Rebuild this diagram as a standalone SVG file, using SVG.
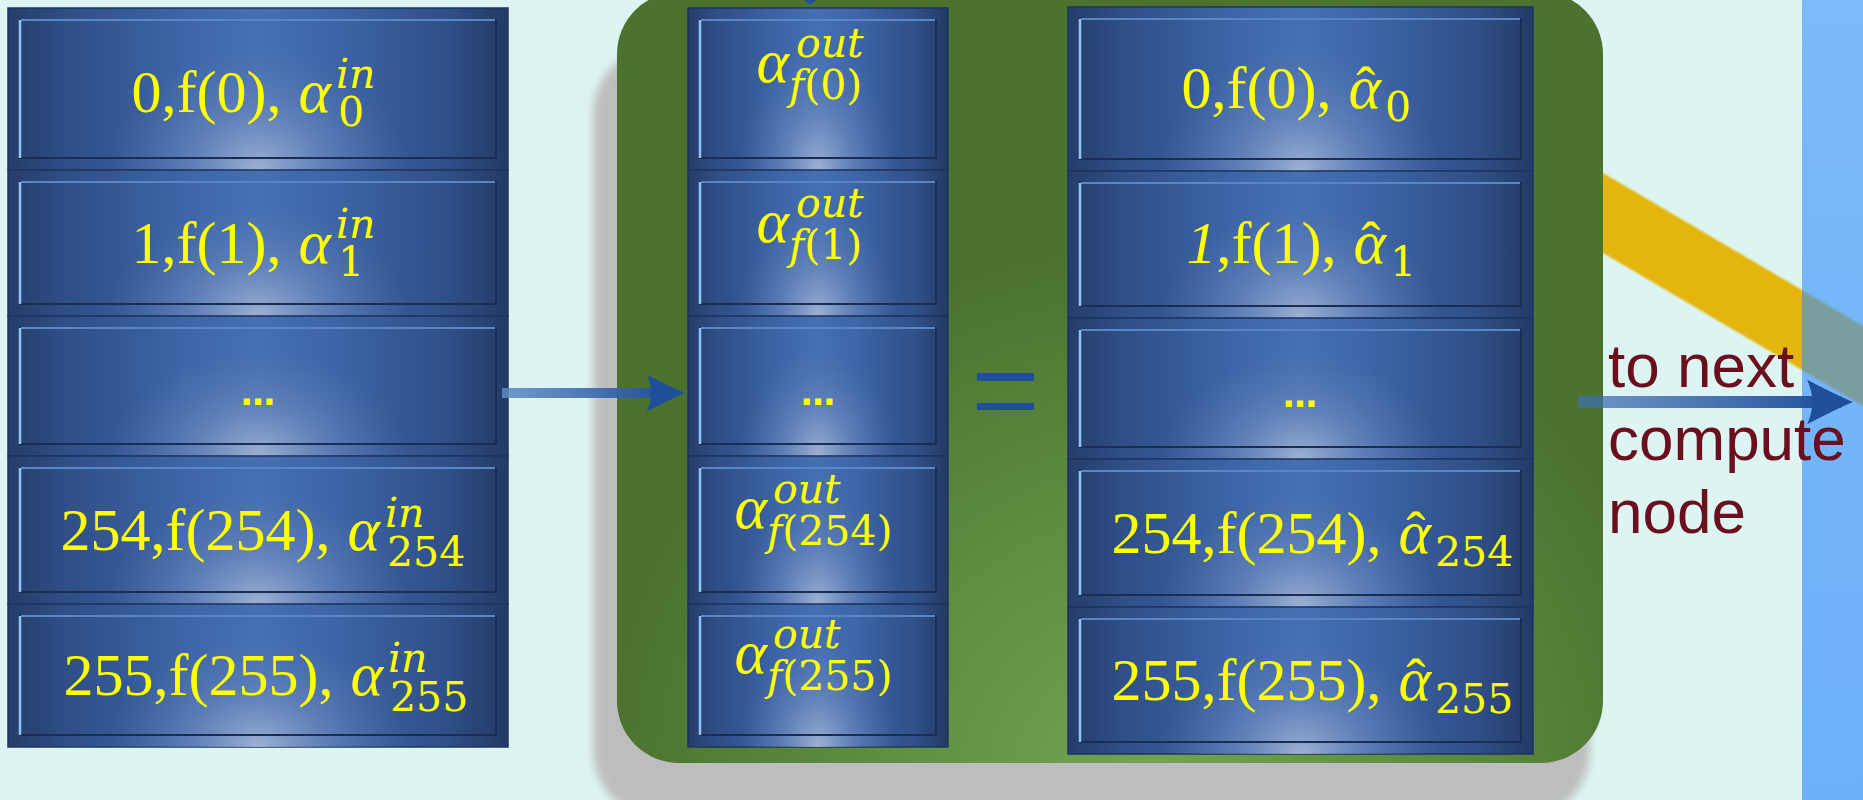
<svg xmlns="http://www.w3.org/2000/svg" width="1863" height="800" viewBox="0 0 1863 800">
  <defs>
    <style>
      .base { fill: url(#cellH); stroke: #1e3560; stroke-width: 1.5; }
      .glow { fill: url(#cellGlow); }
      .inner { fill: none; stroke: #1a2e54; stroke-width: 2; }
      .hl { fill: none; stroke: #8ec4f4; stroke-width: 2.5; }
      .hlt { fill: none; stroke: #5a86c6; stroke-width: 2; }
      .t { font-family: "Liberation Serif", "Times New Roman", serif; font-size: 60px; fill: #ffff00; word-spacing: 2px; }
      .a { font-style: italic; font-size: 62px; }
      .hat { font-family: "Liberation Serif", serif; font-size: 58px; fill: #ffff00; text-anchor: middle; }
      .s { font-family: "DejaVu Serif", serif; font-size: 41px; fill: #ffff00; }
      .si { font-style: italic; }
      .dots { font-family: "DejaVu Sans", sans-serif; font-weight: bold; font-size: 34px; fill: #ffff00; text-anchor: middle; }
      .lbl { font-family: "Liberation Sans", Arial, sans-serif; font-size: 62px; fill: #6b0f1e; }
      .eq { fill: #1f4e9a; }
    </style>
    <!-- cell shading: dark edges, brighter middle, soft glow rising from the bottom -->
    <linearGradient id="cellH" x1="0" y1="0" x2="1" y2="0">
      <stop offset="0" stop-color="#253d6a"/>
      <stop offset="0.12" stop-color="#2f4f87"/>
      <stop offset="0.35" stop-color="#3d65a7"/>
      <stop offset="0.5" stop-color="#4670b2"/>
      <stop offset="0.65" stop-color="#3d65a7"/>
      <stop offset="0.88" stop-color="#2f4f87"/>
      <stop offset="1" stop-color="#233a66"/>
    </linearGradient>
    <radialGradient id="cellGlow" cx="0.5" cy="1" r="1" gradientTransform="translate(0.5 1) scale(0.3 0.75) translate(-0.5 -1)">
      <stop offset="0" stop-color="#b4c2dc" stop-opacity="0.8"/>
      <stop offset="0.45" stop-color="#8ea3cc" stop-opacity="0.4"/>
      <stop offset="1" stop-color="#6f88bd" stop-opacity="0"/>
    </radialGradient>
    <radialGradient id="greenFill" gradientUnits="userSpaceOnUse" cx="1150" cy="790" r="540">
      <stop offset="0" stop-color="#72a552"/>
      <stop offset="0.5" stop-color="#5e8e40"/>
      <stop offset="1" stop-color="#4b732f"/>
    </radialGradient>
    <linearGradient id="stripFill" x1="0" y1="0" x2="0" y2="1">
      <stop offset="0" stop-color="#7bbaf8"/>
      <stop offset="1" stop-color="#6db1fa"/>
    </linearGradient>
    <linearGradient id="shaftL" gradientUnits="userSpaceOnUse" x1="500" y1="0" x2="680" y2="0">
      <stop offset="0" stop-color="#5d8bc6" stop-opacity="0.85"/>
      <stop offset="1" stop-color="#1f4e9a"/>
    </linearGradient>
    <linearGradient id="shaftR" gradientUnits="userSpaceOnUse" x1="1578" y1="0" x2="1840" y2="0">
      <stop offset="0" stop-color="#3f6fb0" stop-opacity="0.7"/>
      <stop offset="1" stop-color="#1f4e9a"/>
    </linearGradient>
    <filter id="soft" x="-10%" y="-10%" width="120%" height="120%">
      <feGaussianBlur stdDeviation="5"/>
    </filter>
    <filter id="softBand" x="-5%" y="-5%" width="110%" height="110%">
      <feGaussianBlur stdDeviation="1.2"/>
    </filter>
    <clipPath id="stripClip">
      <rect x="1802" y="0" width="61" height="800"/>
    </clipPath>
    <marker id="head" viewBox="0 0 40 40" refX="30" refY="20" markerWidth="3.9" markerHeight="3.9" orient="auto" markerUnits="strokeWidth">
      <path d="M40 20Q22 12 1 1Q10 20 1 39Q22 28 40 20Z" fill="#1f4e9a"/>
    </marker>
  </defs>

  <!-- page background -->
  <rect x="0" y="0" width="1863" height="800" fill="#ddf5f2"/>

  <!-- diagonal yellow band passing behind the compute block -->
  <g id="band" filter="url(#softBand)">
    <polygon points="1450,83 1870,330 1870,410 1450,163" fill="#e3b50c"/>
  </g>

  <!-- compute block: drop shadow and green panel -->
  <g id="compute-block">
    <rect x="593" y="45" width="997" height="775" rx="70" fill="#bdbdbd" filter="url(#soft)"/>
    <rect x="617" y="-8" width="986" height="771" rx="62" fill="url(#greenFill)"/>
  </g>

  <!-- next compute node strip at the right edge -->
  <g id="next-node">
    <rect x="1802" y="0" width="61" height="800" fill="url(#stripFill)"/>
    <polygon points="1450,83 1870,330 1870,410 1450,163" fill="#7a9e9e" clip-path="url(#stripClip)" filter="url(#softBand)"/>
  </g>

  <!-- input table -->
  <g id="input-table">
    <g id="in-0">
      <rect class="base" x="8" y="8" width="500" height="162"/>
      <rect class="glow" x="8" y="8" width="500" height="162"/>
      <rect class="inner" x="20" y="20" width="476" height="138"/>
      <path class="hlt" d="M21 20H495"/>
      <path class="hl" d="M20 20V158"/>
      <text class="t" x="331" y="112" text-anchor="end">0,f(0), <tspan class="a">α</tspan></text>
      <text class="s si" x="336" y="88">in</text>
      <text class="s" x="338" y="126">0</text>
    </g>
    <g id="in-1">
      <rect class="base" x="8" y="170" width="500" height="146"/>
      <rect class="glow" x="8" y="170" width="500" height="146"/>
      <rect class="inner" x="20" y="182" width="476" height="122"/>
      <path class="hlt" d="M21 182H495"/>
      <path class="hl" d="M20 182V304"/>
      <text class="t" x="331" y="263" text-anchor="end">1,f(1), <tspan class="a">α</tspan></text>
      <text class="s si" x="336" y="238">in</text>
      <text class="s" x="338" y="276">1</text>
    </g>
    <g id="in-dots">
      <rect class="base" x="8" y="316" width="500" height="140"/>
      <rect class="glow" x="8" y="316" width="500" height="140"/>
      <rect class="inner" x="20" y="328" width="476" height="116"/>
      <path class="hlt" d="M21 328H495"/>
      <path class="hl" d="M20 328V444"/>
      <text class="dots" x="258" y="405">…</text>
    </g>
    <g id="in-254">
      <rect class="base" x="8" y="456" width="500" height="148"/>
      <rect class="glow" x="8" y="456" width="500" height="148"/>
      <rect class="inner" x="20" y="468" width="476" height="124"/>
      <path class="hlt" d="M21 468H495"/>
      <path class="hl" d="M20 468V592"/>
      <text class="t" x="380" y="550" text-anchor="end">254,f(254), <tspan class="a">α</tspan></text>
      <text class="s si" x="385" y="527">in</text>
      <text class="s" x="387" y="566">254</text>
    </g>
    <g id="in-255">
      <rect class="base" x="8" y="604" width="500" height="143"/>
      <rect class="glow" x="8" y="604" width="500" height="143"/>
      <rect class="inner" x="20" y="616" width="476" height="119"/>
      <path class="hlt" d="M21 616H495"/>
      <path class="hl" d="M20 616V735"/>
      <text class="t" x="383" y="695" text-anchor="end">255,f(255), <tspan class="a">α</tspan></text>
      <text class="s si" x="388" y="672">in</text>
      <text class="s" x="390" y="711">255</text>
    </g>
  </g>

  <!-- output weights table -->
  <g id="out-table">
    <g id="out-0">
      <rect class="base" x="688" y="8" width="260" height="162"/>
      <rect class="glow" x="688" y="8" width="260" height="162"/>
      <rect class="inner" x="700" y="20" width="236" height="138"/>
      <path class="hlt" d="M701 20H935"/>
      <path class="hl" d="M700 20V158"/>
      <text class="t a" x="789" y="82" text-anchor="end">α</text>
      <text class="s si" x="796" y="57">out</text>
      <text class="s" x="789" y="99"><tspan class="si">f</tspan>(0)</text>
    </g>
    <g id="out-1">
      <rect class="base" x="688" y="170" width="260" height="146"/>
      <rect class="glow" x="688" y="170" width="260" height="146"/>
      <rect class="inner" x="700" y="182" width="236" height="122"/>
      <path class="hlt" d="M701 182H935"/>
      <path class="hl" d="M700 182V304"/>
      <text class="t a" x="789" y="242" text-anchor="end">α</text>
      <text class="s si" x="796" y="217">out</text>
      <text class="s" x="789" y="259"><tspan class="si">f</tspan>(1)</text>
    </g>
    <g id="out-dots">
      <rect class="base" x="688" y="316" width="260" height="140"/>
      <rect class="glow" x="688" y="316" width="260" height="140"/>
      <rect class="inner" x="700" y="328" width="236" height="116"/>
      <path class="hlt" d="M701 328H935"/>
      <path class="hl" d="M700 328V444"/>
      <text class="dots" x="818" y="405">…</text>
    </g>
    <g id="out-254">
      <rect class="base" x="688" y="456" width="260" height="148"/>
      <rect class="glow" x="688" y="456" width="260" height="148"/>
      <rect class="inner" x="700" y="468" width="236" height="124"/>
      <path class="hlt" d="M701 468H935"/>
      <path class="hl" d="M700 468V592"/>
      <text class="t a" x="767" y="528" text-anchor="end">α</text>
      <text class="s si" x="773" y="503">out</text>
      <text class="s" x="767" y="545"><tspan class="si">f</tspan>(254)</text>
    </g>
    <g id="out-255">
      <rect class="base" x="688" y="604" width="260" height="143"/>
      <rect class="glow" x="688" y="604" width="260" height="143"/>
      <rect class="inner" x="700" y="616" width="236" height="119"/>
      <path class="hlt" d="M701 616H935"/>
      <path class="hl" d="M700 616V735"/>
      <text class="t a" x="767" y="673" text-anchor="end">α</text>
      <text class="s si" x="773" y="648">out</text>
      <text class="s" x="767" y="690"><tspan class="si">f</tspan>(255)</text>
    </g>
  </g>

  <!-- equals sign -->
  <g id="equals">
    <rect class="eq" x="977" y="373" width="57" height="8"/>
    <rect class="eq" x="977" y="403" width="57" height="7"/>
  </g>

  <!-- updated weights table -->
  <g id="hat-table">
    <g id="hat-0">
      <rect class="base" x="1068" y="7" width="465" height="164"/>
      <rect class="glow" x="1068" y="7" width="465" height="164"/>
      <rect class="inner" x="1080" y="19" width="441" height="140"/>
      <path class="hlt" d="M1081 19H1520"/>
      <path class="hl" d="M1080 19V159"/>
      <text class="t" x="1381" y="108" text-anchor="end">0,f(0), <tspan class="a">α</tspan></text>
      <text class="hat" x="1366" y="106">ˆ</text>
      <text class="s" x="1385" y="121">0</text>
    </g>
    <g id="hat-1">
      <rect class="base" x="1068" y="171" width="465" height="147"/>
      <rect class="glow" x="1068" y="171" width="465" height="147"/>
      <rect class="inner" x="1080" y="183" width="441" height="123"/>
      <path class="hlt" d="M1081 183H1520"/>
      <path class="hl" d="M1080 183V306"/>
      <text class="t" x="1386" y="263" text-anchor="end"><tspan font-style="italic">1</tspan>,f(1), <tspan class="a">α</tspan></text>
      <text class="hat" x="1371" y="261">ˆ</text>
      <text class="s" x="1390" y="276">1</text>
    </g>
    <g id="hat-dots">
      <rect class="base" x="1068" y="318" width="465" height="141"/>
      <rect class="glow" x="1068" y="318" width="465" height="141"/>
      <rect class="inner" x="1080" y="330" width="441" height="117"/>
      <path class="hlt" d="M1081 330H1520"/>
      <path class="hl" d="M1080 330V447"/>
      <text class="dots" x="1300" y="407">…</text>
    </g>
    <g id="hat-254">
      <rect class="base" x="1068" y="459" width="465" height="148"/>
      <rect class="glow" x="1068" y="459" width="465" height="148"/>
      <rect class="inner" x="1080" y="471" width="441" height="124"/>
      <path class="hlt" d="M1081 471H1520"/>
      <path class="hl" d="M1080 471V595"/>
      <text class="t" x="1431" y="553" text-anchor="end">254,f(254), <tspan class="a">α</tspan></text>
      <text class="hat" x="1416" y="551">ˆ</text>
      <text class="s" x="1435" y="566">254</text>
    </g>
    <g id="hat-255">
      <rect class="base" x="1068" y="607" width="465" height="147"/>
      <rect class="glow" x="1068" y="607" width="465" height="147"/>
      <rect class="inner" x="1080" y="619" width="441" height="123"/>
      <path class="hlt" d="M1081 619H1520"/>
      <path class="hl" d="M1080 619V742"/>
      <text class="t" x="1431" y="700" text-anchor="end">255,f(255), <tspan class="a">α</tspan></text>
      <text class="hat" x="1416" y="698">ˆ</text>
      <text class="s" x="1435" y="713">255</text>
    </g>
  </g>

  <!-- caption for the outgoing arrow -->
  <g id="label-next">
    <text class="lbl" x="1608" y="387">to next</text>
    <text class="lbl" x="1608" y="460">compute</text>
    <text class="lbl" x="1608" y="533">node</text>
  </g>

  <!-- connectors -->
  <g id="connectors" fill="none">
    <path d="M502 393H675" stroke="url(#shaftL)" stroke-width="10" marker-end="url(#head)"/>
    <path d="M1578 402H1841" stroke="url(#shaftR)" stroke-width="12" marker-end="url(#head)"/>
    <path d="M804 0H816L810 5Z" fill="#1f4e9a"/>
  </g>
</svg>
